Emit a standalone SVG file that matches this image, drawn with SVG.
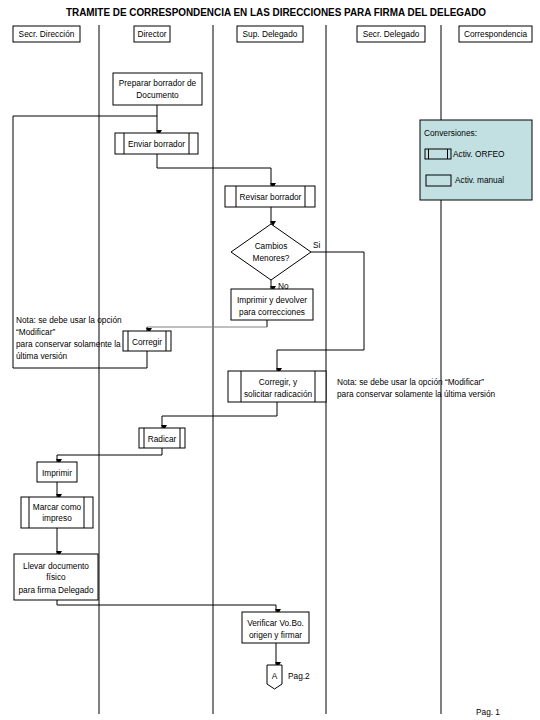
<svg xmlns="http://www.w3.org/2000/svg" width="540" height="720" viewBox="0 0 540 720">
<defs>
<style>
text{font-family:"Liberation Sans Narrow","Liberation Sans",Arial,sans-serif;font-size:8.3px;fill:#000}
.t{font-size:11px;font-weight:bold}
.c{text-anchor:middle}
.box{fill:#fff;stroke:#000;stroke-width:1}
.ln{fill:none;stroke:#000;stroke-width:1}
.lane{stroke:#000;stroke-width:1}
.cn{fill:none;stroke:#000;stroke-width:1;marker-end:url(#ah)}
</style>
<marker id="ah" markerWidth="6" markerHeight="6" refX="3" refY="5" orient="auto" markerUnits="userSpaceOnUse" viewBox="0 0 6 6">
<path d="M0,0 L6,0 L3,5 Z" fill="#000" transform="rotate(-90 3 3)"/>
</marker>
</defs>
<rect width="540" height="720" fill="#fff"/>
<text class="t c" x="276" y="16" textLength="420" lengthAdjust="spacingAndGlyphs">TRAMITE DE CORRESPONDENCIA EN LAS DIRECCIONES PARA FIRMA DEL DELEGADO</text>

<g id="lanes">
<line class="lane" x1="99" y1="25" x2="99" y2="714"/>
<line class="lane" x1="213" y1="25" x2="213" y2="714"/>
<line class="lane" x1="326" y1="25" x2="326" y2="714"/>
<line class="lane" x1="441" y1="25" x2="441" y2="714"/>
</g>

<g id="h1"><rect class="box" x="13" y="26" width="67" height="16"/><text class="c" x="46.5" y="37">Secr. Dirección</text></g>
<g id="h2"><rect class="box" x="134" y="26" width="36" height="16"/><text class="c" x="152" y="37">Director</text></g>
<g id="h3"><rect class="box" x="237" y="26" width="66" height="16"/><text class="c" x="270" y="37">Sup. Delegado</text></g>
<g id="h4"><rect class="box" x="357" y="26" width="68" height="16"/><text class="c" x="391" y="37">Secr. Delegado</text></g>
<g id="h5"><rect class="box" x="459" y="26" width="73" height="16"/><text class="c" x="495.5" y="37">Correspondencia</text></g>

<g id="connectors">
<path class="cn" d="M157,105 V133"/>
<path class="ln" d="M157,116 H13 V368 H147 V351"/>
<path class="cn" d="M157,154 V168 H271 V186"/>
<path class="cn" d="M271,207 V224"/>
<path class="cn" d="M271,280 V289"/>
<path class="cn" d="M311,252 H364 V350 H277 V371"/>
<path class="ln" d="M267,320 V327"/>
<path fill="none" stroke="#808080" d="M267,327 H147"/>
<path class="cn" d="M147,327 V331"/>
<path class="cn" d="M277,402 V416 H162 V428"/>
<path class="cn" d="M162,448 V455 H57 V462"/>
<path class="cn" d="M57,482 V497"/>
<path class="cn" d="M57,528 V554"/>
<path class="cn" d="M57,600 V605 H276 V612"/>
<path class="cn" d="M276,643 V665"/>
<text x="313" y="248">Si</text>
<text x="278" y="289">No</text>
</g>

<g id="preparar"><rect class="box" x="113" y="73" width="89" height="32"/><text class="c" x="157.5" y="86">Preparar borrador de</text><text class="c" x="157.5" y="98">Documento</text></g>
<g id="enviar"><rect class="box" x="115" y="133" width="83" height="21"/><line class="ln" x1="124" y1="133" x2="124" y2="154"/><line class="ln" x1="189" y1="133" x2="189" y2="154"/><text class="c" x="156.5" y="147">Enviar borrador</text></g>
<g id="revisar"><rect class="box" x="225" y="186" width="90" height="21"/><line class="ln" x1="236" y1="186" x2="236" y2="207"/><line class="ln" x1="305" y1="186" x2="305" y2="207"/><text class="c" x="270.5" y="200">Revisar borrador</text></g>
<g id="cambios"><polygon class="box" points="271,224 311,252 271,280 231,252"/><text class="c" x="271" y="249">Cambios</text><text class="c" x="271" y="261">Menores?</text></g>
<g id="imprimirdev"><rect class="box" x="231" y="289" width="82" height="31"/><text class="c" x="272" y="303">Imprimir y devolver</text><text class="c" x="272" y="315">para correcciones</text></g>
<g id="nota1"><text x="16" y="323">Nota: se debe usar la opción</text><text x="16" y="335">“Modificar”</text><text x="16" y="347">para conservar solamente la</text><text x="16" y="359">última versión</text></g>
<g id="corregir"><rect class="box" x="123" y="331" width="48" height="20"/><line class="ln" x1="128" y1="331" x2="128" y2="351"/><line class="ln" x1="166" y1="331" x2="166" y2="351"/><text class="c" x="147" y="345">Corregir</text></g>
<g id="corregiry"><rect class="box" x="228" y="371" width="98" height="31"/><line class="ln" x1="241" y1="371" x2="241" y2="402"/><line class="ln" x1="315" y1="371" x2="315" y2="402"/><text class="c" x="278" y="385">Corregir, y</text><text class="c" x="278" y="397">solicitar radicación</text></g>
<g id="nota2"><text x="337" y="385">Nota: se debe usar la opción “Modificar”</text><text x="337" y="397">para conservar solamente la última versión</text></g>
<g id="radicar"><rect class="box" x="139" y="428" width="46" height="20"/><line class="ln" x1="144" y1="428" x2="144" y2="448"/><line class="ln" x1="180" y1="428" x2="180" y2="448"/><text class="c" x="162" y="442">Radicar</text></g>
<g id="imprimir"><rect class="box" x="37" y="462" width="40" height="20"/><text class="c" x="57" y="476">Imprimir</text></g>
<g id="marcar"><rect class="box" x="21" y="497" width="72" height="31"/><line class="ln" x1="29" y1="497" x2="29" y2="528"/><line class="ln" x1="84" y1="497" x2="84" y2="528"/><text class="c" x="57" y="510">Marcar como</text><text class="c" x="57" y="521">impreso</text></g>
<g id="llevar"><rect class="box" x="14" y="554" width="84" height="46"/><text class="c" x="56" y="569">Llevar documento</text><text class="c" x="56" y="580">físico</text><text class="c" x="56" y="593">para firma Delegado</text></g>
<g id="verificar"><rect class="box" x="242" y="612" width="67" height="31"/><text class="c" x="275.5" y="626">Verificar Vo.Bo.</text><text class="c" x="275.5" y="638">origen y firmar</text></g>
<g id="pag2"><polygon class="box" points="267,665 282,665 282,684 274.5,689 267,684"/><text class="c" x="274.5" y="679">A</text><text x="288" y="679">Pag.2</text></g>
<g id="legend"><rect x="420" y="120" width="112" height="80" fill="#c2e0e2" stroke="#000"/><text x="424" y="136">Conversiones:</text>
<rect class="ln" x="425" y="149" width="26" height="10"/><line class="ln" x1="428.5" y1="149" x2="428.5" y2="159"/><line class="ln" x1="447.5" y1="149" x2="447.5" y2="159"/><text x="453" y="157">Activ. ORFEO</text>
<rect class="ln" x="426" y="175" width="25" height="11"/><text x="455" y="183">Activ. manual</text></g>
<text x="476" y="715">Pag. 1</text>
</svg>
